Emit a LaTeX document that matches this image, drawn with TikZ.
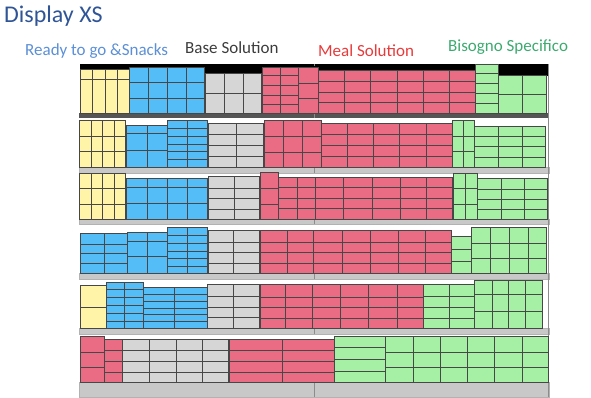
\documentclass[tikz,border=0pt]{standalone}
\usepackage{fontspec}
\setmainfont{Carlito}
\usepackage{tikz}
\usepackage{xcolor}
\definecolor{ColTitle}{RGB}{47,85,151}
\definecolor{ColReady}{RGB}{91,143,214}
\definecolor{ColBase}{RGB}{60,60,60}
\definecolor{ColMeal}{RGB}{232,58,58}
\definecolor{ColNeed}{RGB}{60,170,112}
\definecolor{ColYellow}{RGB}{255,244,168}
\definecolor{ColBlue}{RGB}{84,188,246}
\definecolor{ColGrey}{RGB}{214,214,214}
\definecolor{ColPink}{RGB}{233,108,132}
\definecolor{ColGreen}{RGB}{166,240,166}
\definecolor{ColShelf}{RGB}{200,200,200}
\definecolor{ColShelfTop}{RGB}{85,85,85}
\tikzstyle{CellLine}=[draw=black!72,line width=.8pt]
\tikzstyle{YellowBox}=[CellLine,fill=ColYellow]
\tikzstyle{BlueBox}=[CellLine,fill=ColBlue]
\tikzstyle{GreyBox}=[CellLine,fill=ColGrey]
\tikzstyle{PinkBox}=[CellLine,fill=ColPink]
\tikzstyle{GreenBox}=[CellLine,fill=ColGreen]
\tikzstyle{ShelfBar}=[fill=ColShelf,draw=black!30,line width=.5pt]
\tikzstyle{Divider}=[draw=black!45,line width=.8pt]
\tikzstyle{Label}=[anchor=base west,inner sep=0pt,font=\fontsize{17}{20}\selectfont]
% #1 style, #2-#5 corners, #6 inner x lines, #7 inner y lines
\newcommand{\Crate}[7]{%
  \draw[#1](#2,#3)rectangle(#4,#5);
  \foreach \cx in {#6}{\draw[CellLine](\cx,#3)--(\cx,#5);}
  \foreach \cy in {#7}{\draw[CellLine](#2,\cy)--(#4,\cy);}
}
\begin{document}
\begin{tikzpicture}[x=1pt,y=-1pt]
    \useasboundingbox(0,0)rectangle(591,397);
    \node[anchor=base west,inner sep=0pt,font=\fontsize{24}{28}\selectfont,ColTitle](title)at(4,22){Display XS};
    \node[Label,ColReady](ready)at(25,55){Ready to go \&Snacks};
    \node[Label,ColBase](base)at(185,53){Base Solution};
    \node[Label,ColMeal](meal)at(318,56){Meal Solution};
    \node[Label,ColNeed](need)at(448,51){Bisogno Specifico};
    % shelves
    \fill[black](80,64)rectangle(548,76);
    \fill[ColShelfTop](79,113)rectangle(549,118);
    \foreach \ya/\yb in {167/173,219/224,273/279,328/334,382/397}
        \draw[ShelfBar](79,\ya)rectangle(549,\yb);
    \foreach \ya/\yb in {64/66,113/118,167/173,219/224,273/279,328/334,382/397}
        \draw[Divider](314,\ya)--(314,\yb);
    \draw[Divider](548,64)--(548,397);
    % shelf 1
    \Crate{YellowBox}{80}{69}{129}{113}{92,105,117}{79}
    \Crate{BlueBox}{129}{67}{204}{113}{148,167,186}{82,98}
    \Crate{GreyBox}{205}{73}{261}{113}{224,243}{93}
    \Crate{PinkBox}{262}{67}{298}{113}{280}{75,85,95,104}
    \Crate{PinkBox}{298}{67}{318}{113}{298}{83,98}
    \Crate{PinkBox}{318}{70}{475}{113}{344,370,397,423,449}{81,92,102}
    \Crate{GreenBox}{475}{64}{498}{113}{475}{73,83,93,103}
    \Crate{GreenBox}{498}{75}{546}{113}{522}{94}
    % shelf 2
    \Crate{YellowBox}{79}{120}{125}{167}{91,102,114}{136,151}
    \Crate{BlueBox}{126}{125}{167}{167}{147}{133,150}
    \Crate{BlueBox}{167}{120}{207}{167}{187}{128,136,144,151,159}
    \Crate{GreyBox}{208}{123}{263}{167}{236}{134,145,156}
    \Crate{PinkBox}{264}{120}{321}{167}{283,302}{136,152}
    \Crate{PinkBox}{321}{123}{452}{167}{347,373,399,426}{134,145,156}
    \Crate{GreenBox}{452}{120}{474}{167}{463}{136,151}
    \Crate{GreenBox}{474}{126}{545}{167}{498,522}{136,146,157}
    % shelf 3
    \Crate{YellowBox}{79}{173}{125}{219}{91,102,114}{188,204}
    \Crate{BlueBox}{126}{178}{207}{219}{147,167,187}{187,203}
    \Crate{GreyBox}{208}{176}{259}{219}{234}{188,198,209}
    \Crate{PinkBox}{260}{172}{278}{219}{260}{188,204}
    \Crate{PinkBox}{278}{177}{452}{219}{297,315,343,372,400,426}{187,198,208}
    \Crate{GreenBox}{453}{173}{477}{219}{465}{188,204}
    \Crate{GreenBox}{477}{178}{547}{219}{501,524}{189,199,209}
    % shelf 4
    \Crate{BlueBox}{80}{233}{127}{273}{104}{244,253,263}
    \Crate{BlueBox}{127}{232}{167}{273}{147}{241,256}
    \Crate{BlueBox}{167}{227}{207}{273}{187}{235,243,251,258,266}
    \Crate{GreyBox}{208}{230}{259}{273}{233}{242,252,263}
    \Crate{PinkBox}{260}{230}{451}{273}{287,313,342,370,398,425}{242,252,263}
    \Crate{GreenBox}{451}{236}{471}{273}{451}{249,261}
    \Crate{GreenBox}{471}{227}{546}{273}{490,509,528}{243,258}
    % shelf 5
    \Crate{YellowBox}{80}{285}{106}{328}{80}{307}
    \Crate{BlueBox}{106}{282}{143}{328}{124}{289,297,305,313,321}
    \Crate{BlueBox}{143}{287}{207}{328}{174}{294,301,308,314,321}
    \Crate{GreyBox}{207}{284}{259}{328}{233}{296,307,317}
    \Crate{PinkBox}{260}{284}{423}{328}{285,312,340,368,397}{297,307,318}
    \Crate{GreenBox}{423}{284}{474}{328}{449}{296,307,318}
    \Crate{GreenBox}{474}{280}{542}{328}{492,508,525}{294,311}
    % shelf 6
    \Crate{PinkBox}{80}{336}{104}{382}{80}{352,367}
    \Crate{PinkBox}{104}{339}{122}{382}{104}{350,361,372}
    \Crate{GreyBox}{122}{339}{228}{382}{149,176,202}{350,361,372}
    \Crate{PinkBox}{229}{339}{334}{382}{282}{350,361,372}
    \Crate{GreenBox}{334}{336}{385}{382}{334}{347,359,371}
    \Crate{GreenBox}{385}{336}{548}{382}{413,440,467,494,522}{352,367}
\end{tikzpicture}
\end{document}
